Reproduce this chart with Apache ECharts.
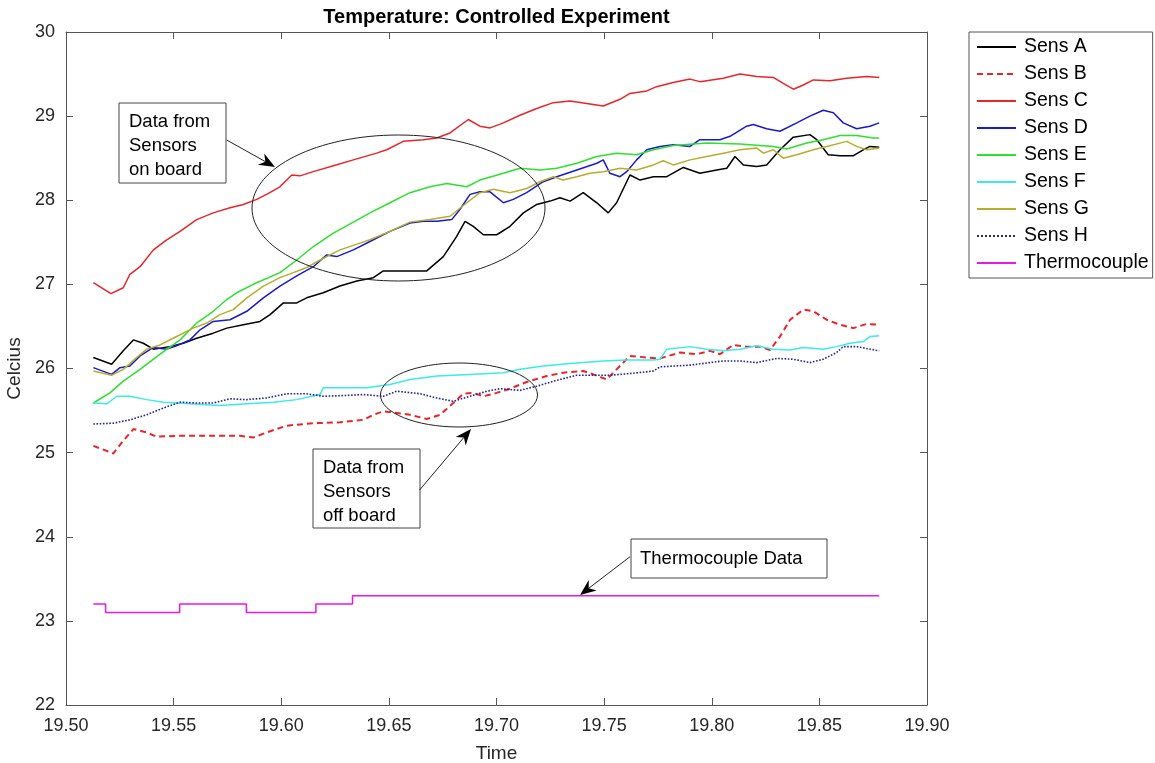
<!DOCTYPE html>
<html><head><meta charset="utf-8">
<script src="https://cdn.jsdelivr.net/npm/echarts@6/dist/echarts.min.js"></script>
<style>html,body{margin:0;padding:0;background:#fff}#c{width:1155px;height:763px}</style>
</head><body><div id="c"></div>
<script>
// ---------- DATA (time, °C) ----------
const seriesNames = ['Sens A','Sens B','Sens C','Sens D','Sens E','Sens F','Sens G','Sens H','Thermocouple'];
const titleText = 'Temperature: Controlled Experiment';
const xName = 'Time';
const yName = 'Celcius';

const sensA = [[19.5127,26.13],[19.5212,26.05],[19.5266,26.21],[19.5313,26.34],[19.5359,26.30],[19.5406,26.23],[19.5483,26.26],[19.5545,26.30],[19.5607,26.36],[19.5684,26.42],[19.5747,26.48],[19.5824,26.52],[19.5901,26.56],[19.5948,26.64],[19.6010,26.78],[19.6072,26.78],[19.6118,26.84],[19.6195,26.90],[19.6273,26.98],[19.6351,27.04],[19.6428,27.08],[19.6474,27.16],[19.6567,27.16],[19.6676,27.16],[19.6753,27.33],[19.6815,27.57],[19.6854,27.75],[19.6892,27.69],[19.6939,27.59],[19.7001,27.59],[19.7063,27.69],[19.7125,27.85],[19.7187,27.95],[19.7249,27.99],[19.7295,28.03],[19.7342,27.99],[19.7403,28.09],[19.7466,27.97],[19.7519,27.85],[19.7558,27.97],[19.7620,28.30],[19.7667,28.24],[19.7729,28.28],[19.7791,28.28],[19.7868,28.39],[19.7945,28.32],[19.8023,28.36],[19.8070,28.38],[19.8108,28.52],[19.8147,28.42],[19.8209,28.40],[19.8255,28.42],[19.8317,28.60],[19.8379,28.75],[19.8456,28.78],[19.8488,28.72],[19.8541,28.54],[19.8596,28.53],[19.8658,28.53],[19.8704,28.60],[19.8735,28.64],[19.8778,28.63]];

const sensB = [[19.5127,25.08],[19.5220,24.99],[19.5259,25.12],[19.5313,25.28],[19.5375,25.24],[19.5421,25.19],[19.5530,25.20],[19.5684,25.20],[19.5808,25.20],[19.5870,25.18],[19.5932,25.24],[19.6025,25.32],[19.6149,25.35],[19.6273,25.36],[19.6381,25.39],[19.6428,25.45],[19.6474,25.49],[19.6536,25.47],[19.6598,25.45],[19.6676,25.40],[19.6738,25.45],[19.6799,25.59],[19.6846,25.70],[19.6892,25.71],[19.6939,25.67],[19.7001,25.71],[19.7063,25.76],[19.7140,25.84],[19.7233,25.91],[19.7310,25.95],[19.7403,25.97],[19.7450,25.93],[19.7512,25.87],[19.7558,25.99],[19.7620,26.15],[19.7698,26.13],[19.7760,26.12],[19.7853,26.19],[19.7930,26.17],[19.7992,26.21],[19.8038,26.17],[19.8100,26.28],[19.8162,26.26],[19.8224,26.26],[19.8271,26.22],[19.8317,26.38],[19.8364,26.58],[19.8425,26.70],[19.8472,26.68],[19.8534,26.58],[19.8596,26.52],[19.8658,26.48],[19.8720,26.53],[19.8778,26.52]];

const sensC = [[19.5127,27.02],[19.5209,26.89],[19.5266,26.96],[19.5297,27.12],[19.5344,27.21],[19.5406,27.41],[19.5468,27.53],[19.5530,27.63],[19.5607,27.77],[19.5684,27.85],[19.5762,27.91],[19.5824,27.95],[19.5886,28.01],[19.5932,28.07],[19.5994,28.16],[19.6049,28.30],[19.6087,28.29],[19.6149,28.34],[19.6242,28.41],[19.6335,28.48],[19.6443,28.56],[19.6490,28.60],[19.6567,28.70],[19.6660,28.72],[19.6722,28.74],[19.6784,28.80],[19.6869,28.96],[19.6923,28.88],[19.6970,28.86],[19.7032,28.92],[19.7109,29.01],[19.7187,29.09],[19.7264,29.16],[19.7342,29.18],[19.7419,29.15],[19.7496,29.12],[19.7574,29.20],[19.7620,29.27],[19.7698,29.30],[19.7744,29.35],[19.7821,29.40],[19.7899,29.44],[19.7945,29.41],[19.8054,29.45],[19.8131,29.50],[19.8209,29.47],[19.8286,29.46],[19.8332,29.39],[19.8379,29.32],[19.8425,29.37],[19.8472,29.43],[19.8549,29.42],[19.8627,29.45],[19.8720,29.47],[19.8778,29.46]];

const sensD = [[19.5127,26.01],[19.5212,25.93],[19.5251,26.01],[19.5297,26.03],[19.5344,26.15],[19.5406,26.25],[19.5468,26.23],[19.5514,26.27],[19.5576,26.34],[19.5623,26.46],[19.5684,26.56],[19.5762,26.58],[19.5840,26.68],[19.5917,26.84],[19.5994,26.98],[19.6072,27.10],[19.6149,27.21],[19.6211,27.35],[19.6258,27.33],[19.6335,27.41],[19.6412,27.51],[19.6505,27.63],[19.6598,27.73],[19.6660,27.75],[19.6722,27.75],[19.6792,27.77],[19.6830,27.89],[19.6877,28.07],[19.6923,28.10],[19.6970,28.10],[19.7032,27.97],[19.7078,28.01],[19.7140,28.09],[19.7217,28.22],[19.7280,28.28],[19.7373,28.36],[19.7466,28.44],[19.7496,28.48],[19.7527,28.32],[19.7574,28.28],[19.7605,28.34],[19.7651,28.48],[19.7698,28.60],[19.7760,28.64],[19.7821,28.66],[19.7899,28.64],[19.7945,28.72],[19.8038,28.72],[19.8085,28.76],[19.8162,28.88],[19.8193,28.90],[19.8255,28.85],[19.8317,28.82],[19.8395,28.92],[19.8456,29.00],[19.8518,29.07],[19.8565,29.04],[19.8611,28.92],[19.8673,28.85],[19.8735,28.88],[19.8778,28.92]];

const sensE = [[19.5127,25.59],[19.5204,25.71],[19.5266,25.85],[19.5344,25.99],[19.5437,26.17],[19.5530,26.34],[19.5607,26.54],[19.5684,26.68],[19.5747,26.82],[19.5793,26.90],[19.5886,27.02],[19.5994,27.14],[19.6072,27.29],[19.6149,27.45],[19.6242,27.61],[19.6335,27.74],[19.6412,27.85],[19.6505,27.97],[19.6598,28.09],[19.6691,28.16],[19.6769,28.20],[19.6862,28.16],[19.6923,28.24],[19.7032,28.32],[19.7109,28.38],[19.7202,28.36],[19.7280,28.38],[19.7373,28.44],[19.7466,28.52],[19.7558,28.56],[19.7651,28.54],[19.7729,28.60],[19.7821,28.65],[19.7977,28.68],[19.8131,28.67],[19.8286,28.64],[19.8348,28.61],[19.8441,28.68],[19.8518,28.72],[19.8596,28.77],[19.8673,28.77],[19.8751,28.74],[19.8778,28.74]];

const sensF = [[19.5127,25.59],[19.5189,25.58],[19.5236,25.67],[19.5297,25.67],[19.5375,25.63],[19.5452,25.60],[19.5576,25.58],[19.5715,25.56],[19.5840,25.58],[19.5963,25.60],[19.6072,25.63],[19.6180,25.69],[19.6195,25.77],[19.6304,25.77],[19.6397,25.77],[19.6505,25.81],[19.6598,25.87],[19.6722,25.91],[19.6877,25.93],[19.7032,25.95],[19.7109,25.99],[19.7217,26.03],[19.7342,26.06],[19.7496,26.09],[19.7605,26.10],[19.7729,26.10],[19.7760,26.11],[19.7791,26.23],[19.7899,26.26],[19.7977,26.23],[19.8054,26.21],[19.8131,26.23],[19.8209,26.27],[19.8286,26.23],[19.8364,26.22],[19.8425,26.25],[19.8518,26.23],[19.8580,26.26],[19.8642,26.30],[19.8704,26.32],[19.8735,26.38],[19.8778,26.39]];

const sensG = [[19.5127,25.97],[19.5212,25.92],[19.5266,25.99],[19.5328,26.13],[19.5375,26.23],[19.5437,26.28],[19.5514,26.38],[19.5591,26.48],[19.5654,26.54],[19.5715,26.64],[19.5777,26.70],[19.5840,26.84],[19.5917,26.98],[19.5994,27.08],[19.6056,27.14],[19.6118,27.20],[19.6180,27.29],[19.6273,27.41],[19.6366,27.49],[19.6412,27.53],[19.6505,27.63],[19.6598,27.74],[19.6691,27.77],[19.6784,27.81],[19.6862,27.97],[19.6923,28.09],[19.6985,28.13],[19.7063,28.09],[19.7140,28.14],[19.7202,28.22],[19.7264,28.28],[19.7310,28.24],[19.7373,28.28],[19.7434,28.32],[19.7496,28.34],[19.7574,28.38],[19.7651,28.36],[19.7729,28.42],[19.7775,28.47],[19.7821,28.42],[19.7899,28.48],[19.7977,28.52],[19.8054,28.56],[19.8131,28.60],[19.8209,28.62],[19.8240,28.56],[19.8286,28.60],[19.8332,28.50],[19.8395,28.54],[19.8472,28.60],[19.8534,28.64],[19.8627,28.70],[19.8673,28.64],[19.8720,28.60],[19.8778,28.62]];

const sensH = [[19.5127,25.34],[19.5220,25.35],[19.5297,25.39],[19.5375,25.45],[19.5452,25.53],[19.5530,25.60],[19.5607,25.59],[19.5684,25.59],[19.5762,25.64],[19.5840,25.63],[19.5932,25.65],[19.6025,25.70],[19.6118,25.70],[19.6195,25.67],[19.6304,25.68],[19.6381,25.69],[19.6474,25.67],[19.6536,25.73],[19.6645,25.70],[19.6722,25.65],[19.6799,25.61],[19.6877,25.67],[19.6955,25.73],[19.7016,25.76],[19.7109,25.74],[19.7187,25.79],[19.7280,25.86],[19.7373,25.92],[19.7466,25.92],[19.7527,25.92],[19.7620,25.94],[19.7729,25.97],[19.7760,26.02],[19.7899,26.04],[19.8054,26.09],[19.8131,26.09],[19.8209,26.07],[19.8302,26.12],[19.8379,26.11],[19.8456,26.07],[19.8518,26.11],[19.8580,26.19],[19.8611,26.26],[19.8673,26.26],[19.8778,26.21]];

const thermocouple = [[19.5127,23.2],[19.5184,23.1],[19.5528,23.2],[19.5838,23.1],[19.6161,23.2],[19.6331,23.3],[19.8778,23.3]];

// ---------- STYLE ----------
const FONT = '"Liberation Sans", Arial, Helvetica, sans-serif';
const X0 = 66, X1 = 927, Y0 = 32, Y1 = 705;
const chart = echarts.init(document.getElementById('c'), null, {renderer:'canvas'});

function lineSeries(name, data, color, type, width){
  return {name, type:'line', data, symbol:'none', showSymbol:false, smooth:false,
    xAxisIndex:0, yAxisIndex:0, silent:true,
    lineStyle:{color, width: width || 1.5, type: type || 'solid'}, itemStyle:{color},
    emphasis:{disabled:true}};
}
function arrow(x1,y1,x2,y2){
  const dx=x2-x1, dy=y2-y1, L=Math.hypot(dx,dy), ux=dx/L, uy=dy/L, px=-uy, py=ux;
  const hl=16, hw=6.5, nb=11;
  const bx=x2-ux*hl, by=y2-uy*hl, nx=x2-ux*nb, ny=y2-uy*nb;
  return [
    {type:'line', z:100, shape:{x1,y1,x2:nx,y2:ny}, style:{stroke:'#222', lineWidth:1}},
    {type:'polygon', z:100, shape:{points:[[x2,y2],[bx+px*hw,by+py*hw],[nx,ny],[bx-px*hw,by-py*hw]]}, style:{fill:'#000'}}
  ];
}
function box(x,y,w,h,text,tx,ty){
  return [
    {type:'rect', z:100, shape:{x,y,width:w,height:h}, style:{fill:'#fff', stroke:'#444', lineWidth:1}},
    {type:'text', z:101, x:tx, y:ty, style:{text, font:'18.5px '+FONT, fill:'#000', lineHeight:24, align:'left', verticalAlign:'top'}}
  ];
}

const axisCommon = {type:'value', splitLine:{show:false},
  axisLine:{show:true, lineStyle:{color:'#555', width:1}},
  axisTick:{show:true, inside:true, length:7, lineStyle:{color:'#555', width:1}}};

const option = {
  animation:false,
  backgroundColor:'#fff',
  grid:{left:X0, right:1155-X1, top:Y0, bottom:763-Y1, containLabel:false, outerBoundsMode:'none', show:false},
  xAxis:[
    Object.assign({}, axisCommon, {min:19.5, max:19.9, interval:0.05, position:'bottom',
      name:xName, nameLocation:'middle', nameGap:39,
      nameTextStyle:{fontFamily:FONT, fontSize:19, color:'#262626'},
      axisLabel:{fontFamily:FONT, fontSize:18, color:'#262626', margin:12, formatter:v=>v.toFixed(2)}}),
    Object.assign({}, axisCommon, {min:19.5, max:19.9, interval:0.05, position:'top', axisLabel:{show:false}})
  ],
  yAxis:[
    Object.assign({}, axisCommon, {min:22, max:30, interval:1, position:'left',
      name:yName, nameLocation:'middle', nameGap:35,
      nameTextStyle:{fontFamily:FONT, fontSize:19, color:'#262626'},
      axisLabel:{fontFamily:FONT, fontSize:18, color:'#262626', margin:11}}),
    Object.assign({}, axisCommon, {min:22, max:30, interval:1, position:'right', axisLabel:{show:false}})
  ],
  legend:{
    show:true, orient:'vertical', left:969, top:32, padding:[5,4,5,7],
    itemWidth:39, itemHeight:20, itemGap:7, selectedMode:false,
    itemStyle:{opacity:0},
    borderColor:'#555', borderWidth:1, backgroundColor:'#fff',
    textStyle:{fontFamily:FONT, fontSize:19.5, color:'#000', lineHeight:20, padding:[0,0,0,3]},
    data:seriesNames
  },
  series:[
    lineSeries(seriesNames[0], sensA, '#000000'),
    lineSeries(seriesNames[1], sensB, '#e8262a', [6,4], 2),
    lineSeries(seriesNames[2], sensC, '#e8262a'),
    lineSeries(seriesNames[3], sensD, '#1a1acd'),
    lineSeries(seriesNames[4], sensE, '#2ee02e'),
    lineSeries(seriesNames[5], sensF, '#3ceaea'),
    lineSeries(seriesNames[6], sensG, '#b5ad2c'),
    lineSeries(seriesNames[7], sensH, '#23239a', 'dotted', 1.6),
    Object.assign(lineSeries(seriesNames[8], thermocouple, '#e619e6'), {step:'end'})
  ],
  graphic:[
    {type:'text', z:100, x:(X0+X1)/2, y:17, style:{text:titleText, font:'bold 20px '+FONT, fill:'#000', align:'center', verticalAlign:'middle'}},
    {type:'ellipse', z:99, shape:{cx:398.5, cy:208, rx:146.5, ry:73}, style:{fill:'none', stroke:'#222', lineWidth:1}},
    {type:'ellipse', z:99, shape:{cx:459, cy:395, rx:78.5, ry:32}, style:{fill:'none', stroke:'#222', lineWidth:1}},
    ...box(119,103,107,80,'Data from\nSensors\non board',129,110),
    ...box(313,449,107,79,'Data from\nSensors\noff board',323,456),
    ...box(631,539,196,39,'Thermocouple Data',640,547),
    ...arrow(226.7,140,275,167),
    ...arrow(419.6,490,471,429),
    ...arrow(630,556.7,580,595)
  ]
};
chart.setOption(option);
</script>
</body></html>
